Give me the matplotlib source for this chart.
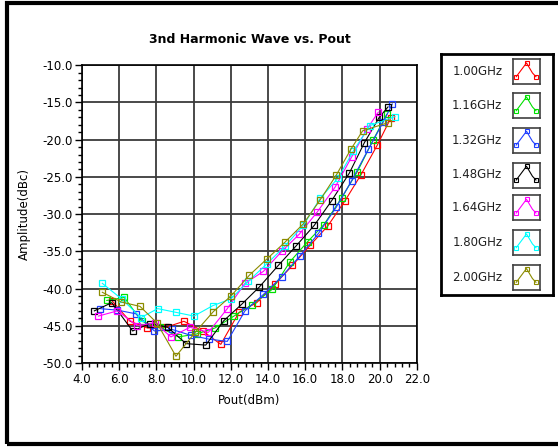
import matplotlib
matplotlib.use("Agg")
import matplotlib.pyplot as plt
from matplotlib.patches import Rectangle
from matplotlib.ticker import MultipleLocator, FormatStrFormatter

# series labels and colours
labels = ["1.00GHz", "1.16GHz", "1.32GHz", "1.48GHz", "1.64GHz", "1.80GHz", "2.00GHz"]
colors = ["#ff0000", "#00e000", "#1f3fff", "#000000", "#ff00ff", "#00ffff", "#8b8b00"]

# Pout (dBm) for each series
x_100 = [5.63, 6.58, 7.51, 8.52, 9.48, 10.49, 11.46, 12.44, 13.39, 14.38, 15.31, 16.26, 17.21, 18.14, 19.0, 19.88, 20.6]
x_116 = [5.33, 6.27, 7.21, 8.19, 9.18, 10.17, 11.15, 12.17, 13.12, 14.23, 15.18, 16.13, 17.01, 17.96, 18.8, 19.66, 20.38]
x_132 = [4.97, 5.9, 6.9, 7.89, 8.85, 9.86, 10.83, 11.81, 12.76, 13.75, 14.74, 15.72, 16.71, 17.66, 18.5, 19.39, 20.2, 20.68]
x_148 = [4.66, 5.6, 6.72, 7.66, 8.6, 9.59, 10.65, 11.63, 12.59, 13.53, 14.55, 15.5, 16.49, 17.42, 18.37, 19.18, 19.98, 20.45]
x_164 = [4.88, 5.9, 6.97, 7.92, 8.78, 9.81, 10.79, 11.78, 12.76, 13.75, 14.74, 15.68, 16.65, 17.6, 18.5, 19.31, 19.93]
x_180 = [5.09, 6.13, 7.17, 8.07, 9.05, 10.02, 11.03, 12.0, 12.95, 13.93, 14.91, 15.9, 16.8, 17.78, 18.59, 19.48, 20.83]
x_200 = [5.09, 6.1, 7.12, 8.02, 9.05, 10.08, 11.06, 12.01, 13.0, 13.95, 14.9, 15.9, 16.8, 17.66, 18.45, 19.09, 20.47]

# amplitude (dBc) for each series
y_100 = [-41.7, -44.4, -45.3, -45.2, -44.4, -45.7, -47.5, -43.2, -41.9, -39.4, -36.9, -34.2, -31.6, -28.2, -24.7, -20.7, -17.1]
y_116 = [-41.6, -41.2, -44.4, -45.2, -46.5, -46.1, -45.3, -43.7, -42.2, -40.1, -36.4, -33.7, -31.4, -27.8, -24.3, -20.0, -16.6]
y_132 = [-42.7, -42.9, -43.4, -45.7, -45.5, -46.3, -46.8, -47.1, -43.0, -40.8, -38.4, -35.6, -32.6, -29.1, -25.5, -21.3, -17.6, -15.2]
y_148 = [-43.0, -41.9, -45.7, -44.7, -45.2, -47.4, -47.6, -44.3, -42.1, -39.8, -36.9, -34.3, -31.5, -28.2, -24.5, -20.4, -17.0, -15.6]
y_164 = [-43.7, -43.0, -45.0, -44.6, -46.5, -45.2, -45.9, -42.8, -39.3, -37.7, -35.0, -32.7, -29.7, -26.4, -22.3, -18.6, -16.3]
y_180 = [-39.3, -41.4, -43.9, -42.7, -43.2, -43.7, -42.3, -41.4, -39.0, -36.7, -34.3, -31.5, -27.9, -25.1, -21.5, -18.1, -16.9]
y_200 = [-40.5, -41.8, -42.4, -44.6, -49.1, -45.9, -43.1, -41.0, -38.2, -36.0, -33.8, -31.3, -28.1, -24.8, -21.3, -18.8, -17.7]

xs = [x_100, x_116, x_132, x_148, x_164, x_180, x_200]
ys = [y_100, y_116, y_132, y_148, y_164, y_180, y_200]

fig = plt.figure(figsize=(5.58, 4.47), dpi=100)
fig.patch.set_facecolor("white")

# outer frame
fig.patches.append(Rectangle((0.012, 0.006), 1.2, 0.987, transform=fig.transFigure,
                             fill=False, edgecolor="black", linewidth=3))

ax = fig.add_axes([0.147, 0.188, 0.600, 0.666])
for x, y, c in zip(xs, ys, colors):
    ax.plot(x, y, color=c, linewidth=0.8, marker="s", markersize=3.8,
            markerfacecolor="none", markeredgecolor=c, markeredgewidth=0.9)

ax.set_xlim(4, 22)
ax.set_ylim(-50, -10)
ax.xaxis.set_major_locator(MultipleLocator(2))
ax.xaxis.set_minor_locator(MultipleLocator(0.4))
ax.yaxis.set_major_locator(MultipleLocator(5))
ax.yaxis.set_minor_locator(MultipleLocator(1))
ax.xaxis.set_major_formatter(FormatStrFormatter("%.1f"))
ax.yaxis.set_major_formatter(FormatStrFormatter("%.1f"))
ax.tick_params(which="major", direction="out", length=5, width=1, labelsize=8.5, pad=2)
ax.tick_params(which="minor", direction="out", length=3, width=1)
ax.grid(True, which="major", color="#3a3a3a", linewidth=1.3)
ax.set_axisbelow(True)
for s in ax.spines.values():
    s.set_linewidth(1.2)

ax.set_title("3nd Harmonic Wave vs. Pout", fontsize=9, fontweight="bold", pad=16)
ax.set_xlabel("Pout(dBm)", fontsize=8.5, labelpad=6)
ax.set_ylabel("Amplitude(dBc)", fontsize=8.5, labelpad=8)

# custom legend panel
lax = fig.add_axes([0.790, 0.340, 0.2007, 0.539])
lax.set_xticks([])
lax.set_yticks([])
for s in lax.spines.values():
    s.set_linewidth(2)
lax.set_xlim(0, 1)
lax.set_ylim(0, 1)

panel_bottom = 0.340
panel_h = 0.539
row_px = [71.7, 105.7, 140.0, 175.0, 208.0, 242.7, 277.3]
for lab, c, py in zip(labels, colors, row_px):
    fy = 1 - py / 447
    lax.text(0.55, (fy - panel_bottom) / panel_h, lab, fontsize=8.5,
             ha="right", va="center", color="#202020")
    iax = fig.add_axes([513 / 558, fy - 12.5 / 447, 27 / 558, 25 / 447])
    iax.set_xticks([])
    iax.set_yticks([])
    for s in iax.spines.values():
        s.set_linewidth(1.2)
        s.set_edgecolor("#404040")
    iax.set_xlim(0, 1)
    iax.set_ylim(0, 1)
    iax.plot([0.12, 0.5, 0.72, 0.85], [0.3, 0.85, 0.45, 0.3], color=c, linewidth=0.8,
             marker="s", markersize=3, markerfacecolor="none", markevery=[0, 1, 3],
             markeredgecolor=c, markeredgewidth=0.8)

fig.savefig("out.png", dpi=100)
